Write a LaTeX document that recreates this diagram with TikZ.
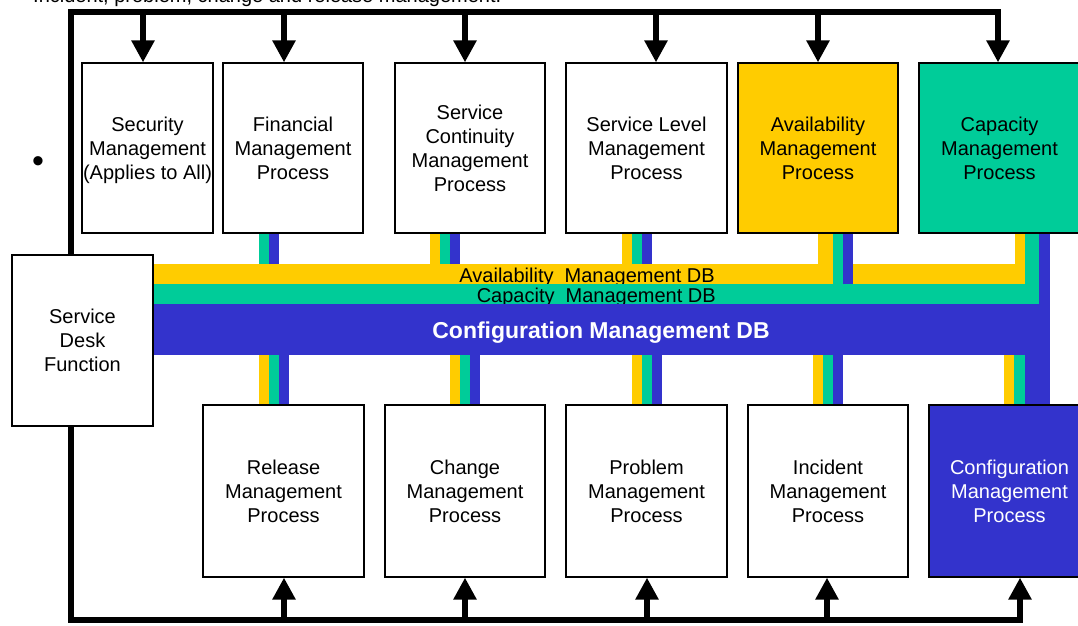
\documentclass[tikz,border=0pt]{standalone}
\usepackage{fontspec}
\setmainfont{Liberation Sans}
\usetikzlibrary{arrows.meta,calc}
\definecolor{amber}{HTML}{FFCC00}
\definecolor{jade}{HTML}{00CC99}
\definecolor{cmdb}{HTML}{3333CC}
\pgfdeclarelayer{bg}
\pgfsetlayers{bg,main}
% vertical link strip: colour, x-from, x-to, node anchor, y at the bar
\newcommand\vstrip[5]{\fill[#1] (#2,0 |- #4) rectangle (#3,#5);}
\begin{document}
\begin{tikzpicture}[x=1pt,y=-1pt,
  txt/.style={font=\fontsize{20}{24}\selectfont},
  proc/.style={txt, draw=black, line width=1.2pt, fill=white, align=center, inner sep=0pt},
  toprow/.style={proc, minimum height=170pt},
  botrow/.style={proc, minimum height=172pt},
  rail/.style={line width=5.5pt, line join=miter},
  feed/.style={rail, -{Triangle[width=22pt,length=22pt]}},
  loop/.style={rail, {Triangle[width=22pt,length=22pt]}-{Triangle[width=22pt,length=22pt]}},
  dblabel/.style={txt, inner sep=0pt, anchor=base east}
]
\useasboundingbox (0,0) rectangle (1078,625);
\clip (0,0) rectangle (1078,625);

% heading line and bullet
\node[txt, anchor=base west, inner sep=0pt] (head) at (33,2.5) {Incident, problem, change and release management.};
\node[font=\fontsize{34}{34}\selectfont, inner sep=0pt] (dot) at (38,165) {•};

% rail coordinates
\coordinate (t0) at (71,12);
\coordinate (b0) at (71,620);
\coordinate (t1) at (143,12);
\coordinate (t2) at (284,12);
\coordinate (t3) at (465,12);
\coordinate (t4) at (656,12);
\coordinate (t5) at (818,12);
\coordinate (t6) at (998,12);
\coordinate (b1) at (284,620);
\coordinate (b2) at (465,620);
\coordinate (b3) at (647,620);
\coordinate (b4) at (827,620);
\coordinate (b5) at (1020,620);

% process boxes
\node[toprow, minimum width=131pt] (sec) at (147.5,148) {Security\\Management\\\raisebox{0pt}[\height][0pt]{(Applies to All)}};
\node[toprow, minimum width=140pt] (fin) at (293,148) {Financial\\Management\\Process};
\node[toprow, minimum width=150pt] (scm) at (470,148) {Service\\Continuity\\Management\\Process};
\node[toprow, minimum width=161pt] (slm) at (646.5,148) {Service Level\\Management\\Process};
\node[toprow, minimum width=160pt, fill=amber] (avm) at (818,148) {Availability\\Management\\Process};
\node[toprow, minimum width=161pt, fill=jade] (cap) at (999.5,148) {Capacity\\Management\\Process};
\node[proc, minimum width=141pt, minimum height=171pt] (desk) at (82.5,340.5) {Service\\Desk\\Function};
\node[botrow, minimum width=161pt] (rel) at (283.5,491) {Release\\Management\\Process};
\node[botrow, minimum width=160pt] (chg) at (465,491) {Change\\Management\\Process};
\node[botrow, minimum width=161pt] (prb) at (646.5,491) {Problem\\Management\\Process};
\node[botrow, minimum width=160pt] (inc) at (828,491) {Incident\\Management\\Process};
\node[botrow, minimum width=161pt, fill=cmdb, text=white] (cfg) at (1009.5,491) {Configuration\\Management\\Process};

% databases and their links
\begin{pgfonlayer}{bg}
  \fill[amber] (desk.east |- 0,264) rectangle (1025,284);
  % links from the upper processes
  \vstrip{jade}{259}{269}{fin.south}{264}
  \vstrip{cmdb}{269}{279}{fin.south}{264}
  \vstrip{amber}{430}{440}{scm.south}{264}
  \vstrip{jade}{440}{450}{scm.south}{264}
  \vstrip{cmdb}{450}{460}{scm.south}{264}
  \vstrip{amber}{622}{632}{slm.south}{264}
  \vstrip{jade}{632}{642}{slm.south}{264}
  \vstrip{cmdb}{642}{652}{slm.south}{264}
  \vstrip{amber}{818}{833}{avm.south}{264}
  \vstrip{jade}{833}{843}{avm.south}{304}
  \vstrip{cmdb}{843}{853}{avm.south}{304}
  \vstrip{amber}{1015}{1025}{cap.south}{264}
  \vstrip{jade}{1025}{1039}{cap.south}{304}
  \vstrip{cmdb}{1039}{1050}{cap.south}{304}
  \node[dblabel] (adb) at (715,282) {Availability~~Management DB};
  \fill[jade] (desk.east |- 0,284) rectangle (1039,304);
  \node[dblabel] (cdb) at (716,302) {Capacity~~Management DB};
  \fill[cmdb] (desk.east |- 0,304) rectangle (1050,355);
  \node[font=\fontsize{23}{23}\selectfont\bfseries, text=white, inner sep=0pt, anchor=base] (cmdbl) at (601,338) {Configuration Management DB};
  % links to the lower processes
  \vstrip{amber}{259}{269}{rel.north}{355}
  \vstrip{jade}{269}{279}{rel.north}{355}
  \vstrip{cmdb}{279}{289}{rel.north}{355}
  \vstrip{amber}{450}{460}{chg.north}{355}
  \vstrip{jade}{460}{470}{chg.north}{355}
  \vstrip{cmdb}{470}{480}{chg.north}{355}
  \vstrip{amber}{632}{642}{prb.north}{355}
  \vstrip{jade}{642}{652}{prb.north}{355}
  \vstrip{cmdb}{652}{662}{prb.north}{355}
  \vstrip{amber}{813}{823}{inc.north}{355}
  \vstrip{jade}{823}{833}{inc.north}{355}
  \vstrip{cmdb}{833}{843}{inc.north}{355}
  \vstrip{amber}{1004}{1014}{cfg.north}{355}
  \vstrip{jade}{1014}{1025}{cfg.north}{355}
  \vstrip{cmdb}{1025}{1050}{cfg.north}{355}

  % control rail round the processes
  \draw[loop] (b5 |- cfg.south) -- (b5) -- (b0) -- (t0) -- (t6) -- (t6 |- cap.north);
  \draw[feed] (t1) -- (t1 |- sec.north);
  \draw[feed] (t2) -- (t2 |- fin.north);
  \draw[feed] (t3) -- (t3 |- scm.north);
  \draw[feed] (t4) -- (t4 |- slm.north);
  \draw[feed] (t5) -- (t5 |- avm.north);
  \draw[feed] (b1) -- (b1 |- rel.south);
  \draw[feed] (b2) -- (b2 |- chg.south);
  \draw[feed] (b3) -- (b3 |- prb.south);
  \draw[feed] (b4) -- (b4 |- inc.south);
\end{pgfonlayer}
\end{tikzpicture}
\end{document}
